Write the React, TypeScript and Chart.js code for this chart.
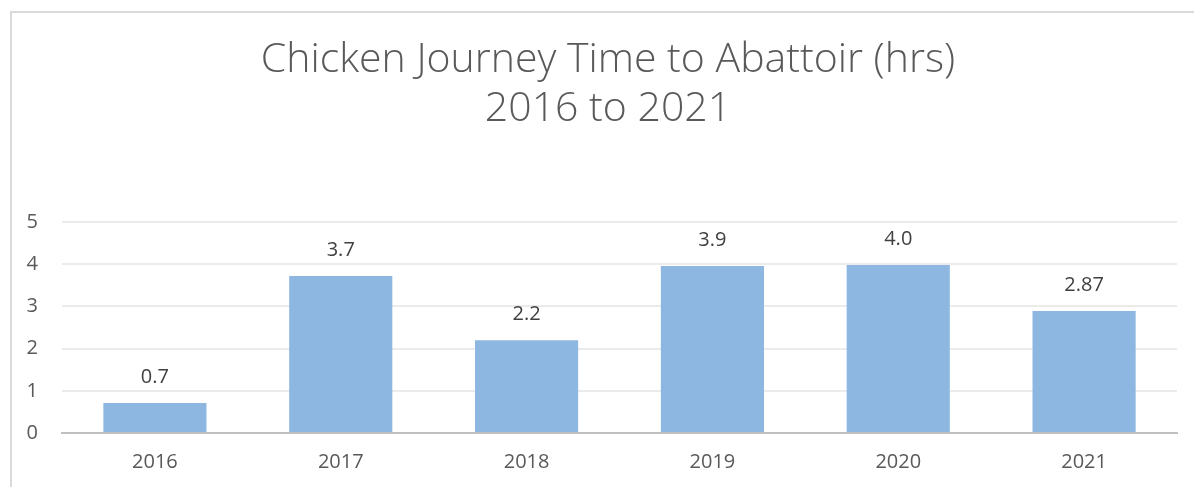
import React, { useEffect, useRef } from "react";
import { Chart, registerables } from "chart.js";

Chart.register(...registerables);

const categories = ["2016", "2017", "2018", "2019", "2020", "2021"];
const journeyHours = [0.71, 3.72, 2.2, 3.96, 3.98, 2.89];
const valueLabels = ["0.7", "3.7", "2.2", "3.9", "4.0", "2.87"];
const titleLines = ["Chicken Journey Time to Abattoir (hrs)", "2016 to 2021"];
const yTicks = [0, 1, 2, 3, 4, 5];

const FONT = "'Open Sans', 'DejaVu Sans', sans-serif";

export default function App() {
  const ref = useRef<HTMLCanvasElement | null>(null);

  useEffect(() => {
    if (!ref.current) return;
    const titlePlugin = {
      id: "customTitle",
      afterDraw(chart: any) {
        const ctx = chart.ctx;
        ctx.save();
        ctx.fillStyle = "#595959";
        ctx.font = `300 41px ${FONT}`;
        ctx.textAlign = "center";
        ctx.textBaseline = "middle";
        titleLines.forEach((t, i) => ctx.fillText(t, 608, 60 + i * 49));
        ctx.restore();
      },
    };
    const labelPlugin = {
      id: "valueLabels",
      afterDatasetsDraw(chart: any) {
        const ctx = chart.ctx;
        const meta = chart.getDatasetMeta(0);
        ctx.save();
        ctx.fillStyle = "#404040";
        ctx.font = `20px ${FONT}`;
        ctx.textAlign = "center";
        ctx.textBaseline = "middle";
        meta.data.forEach((bar: any, i: number) => {
          ctx.fillText(valueLabels[i], bar.x, bar.y - 26);
        });
        ctx.restore();
      },
    };
    const chart = new Chart(ref.current, {
      type: "bar",
      data: {
        labels: categories,
        datasets: [
          {
            data: journeyHours,
            backgroundColor: "#8DB7E1",
            borderWidth: 0,
            categoryPercentage: 1,
            barPercentage: 0.555,
          },
        ],
      },
      options: {
        animation: false,
        responsive: false,
        layout: { padding: { top: 222, right: 17, left: 0, bottom: 0 } },
        plugins: {
          legend: { display: false },
          title: { display: false },
          tooltip: { enabled: false },
        },
        scales: {
          x: {
            grid: { display: false, drawTicks: false },
            border: { display: true, color: "#BFBFBF", width: 2 },
            ticks: { color: "#595959", font: { family: FONT, size: 20 }, padding: 17 },
            afterFit(scale: any) {
              scale.height = 54;
            },
          },
          y: {
            min: 0,
            max: 5,
            afterBuildTicks(scale: any) {
              scale.ticks = yTicks.map((v) => ({ value: v }));
            },
            grid: { color: "#EBEBEB", lineWidth: 2, drawTicks: false },
            border: { display: false },
            ticks: { color: "#595959", font: { family: FONT, size: 20 }, padding: 24 },
            afterFit(scale: any) {
              scale.width = 62;
            },
          },
        },
      },
      plugins: [titlePlugin, labelPlugin],
    });
    return () => chart.destroy();
  }, []);

  return (
    <div style={{ position: "absolute", left: 0, top: 0, width: 1194, height: 487, background: "#fff", overflow: "hidden" }}>
      <div
        style={{
          position: "absolute",
          left: 10,
          top: 11,
          width: 1300,
          height: 600,
          border: "2px solid #D9D9D9",
          boxSizing: "border-box",
        }}
      />
      <canvas ref={ref} width={1194} height={487} style={{ position: "absolute", left: 0, top: 0 }} />
    </div>
  );
}
